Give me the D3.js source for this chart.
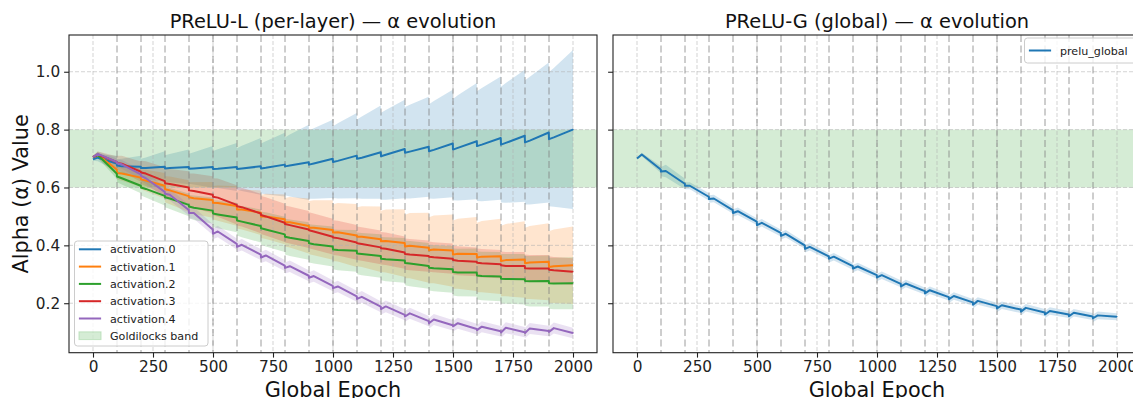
<!DOCTYPE html>
<html><head><meta charset="utf-8">
<script src="https://cdn.jsdelivr.net/npm/d3@7"></script>
<style>body{margin:0;background:#fff}svg{display:block;font-family:"DejaVu Sans",sans-serif}</style>
</head><body><svg id="chart" width="1133" height="398"></svg>
<script>
// ---------- data ----------
const epochs = [0,20,99,100,120,199,200,220,299,300,320,399,400,420,499,500,520,599,600,620,699,700,720,799,800,820,899,900,920,999,1000,1020,1099,1100,1120,1199,1200,1220,1299,1300,1320,1399,1400,1420,1499,1500,1520,1599,1600,1620,1699,1700,1720,1799,1800,1820,1899,1900,1920,1999,2000];
const roundBoundaries = [100,200,300,400,500,600,700,800,900,1000,1100,1200,1300,1400,1500,1600,1700,1800,1900];
const xTicks = [0,250,500,750,1000,1250,1500,1750,2000];
const yTicks = [0.2,0.4,0.6,0.8,1.0];
const goldilocks = [0.6, 0.8];
const layerNames = ["activation.0","activation.1","activation.2","activation.3","activation.4"];
const globalName = "prelu_global";
const colors = ["#1f77b4","#ff7f0e","#2ca02c","#d62728","#9467bd"];

const act0Mean = [0.697,0.703,0.683, 0.676,0.673,0.672, 0.667,0.667,0.672, 0.666,0.667,0.671, 0.665,0.666,0.671, 0.664,0.665,0.671, 0.664,0.666,0.673, 0.666,0.668,0.679, 0.673,0.676,0.687, 0.679,0.683,0.699, 0.688,0.692,0.710, 0.699,0.703,0.722, 0.708,0.713,0.733, 0.720,0.724,0.741, 0.725,0.730,0.752, 0.731,0.737,0.760, 0.743,0.748,0.771, 0.748,0.754,0.779, 0.756,0.762,0.790, 0.767,0.773,0.800, 0.802];
const act0Std = [0.005,0.012,0.027, 0.022,0.026,0.038, 0.032,0.037,0.053, 0.045,0.049,0.060, 0.052,0.056,0.072, 0.062,0.067,0.083, 0.072,0.078,0.098, 0.086,0.092,0.110, 0.100,0.107,0.130, 0.118,0.122,0.135, 0.124,0.130,0.147, 0.136,0.142,0.161, 0.150,0.155,0.170, 0.158,0.162,0.173, 0.163,0.169,0.186, 0.175,0.182,0.201, 0.190,0.196,0.213, 0.200,0.207,0.228, 0.215,0.221,0.242, 0.232,0.240,0.274, 0.276];

const act1Mean = [0.705,0.712,0.662, 0.650,0.648,0.634, 0.628,0.624,0.606, 0.594,0.590,0.570, 0.566,0.563,0.557, 0.547,0.546,0.536, 0.524,0.524,0.513, 0.500,0.500,0.490, 0.480,0.480,0.467, 0.461,0.461,0.453, 0.444,0.445,0.434, 0.430,0.430,0.421, 0.414,0.415,0.408, 0.396,0.399,0.392, 0.383,0.386,0.382, 0.368,0.371,0.370, 0.358,0.361,0.362, 0.346,0.349,0.351, 0.338,0.341,0.343, 0.325,0.328,0.331, 0.331];
const act1Std = [0.005,0.010,0.020, 0.022,0.025,0.032, 0.034,0.037,0.044, 0.045,0.048,0.055, 0.052,0.055,0.062, 0.058,0.061,0.068, 0.066,0.069,0.077, 0.075,0.078,0.086, 0.084,0.087,0.095, 0.092,0.095,0.103, 0.098,0.101,0.109, 0.102,0.105,0.113, 0.106,0.109,0.117, 0.110,0.113,0.121, 0.114,0.117,0.125, 0.118,0.121,0.128, 0.120,0.123,0.130, 0.122,0.125,0.132, 0.123,0.126,0.133, 0.124,0.127,0.134, 0.134];

const act2Mean = [0.705,0.712,0.648, 0.638,0.632,0.606, 0.600,0.595,0.571, 0.566,0.562,0.540, 0.534,0.530,0.520, 0.510,0.507,0.496, 0.486,0.482,0.467, 0.459,0.455,0.438, 0.430,0.426,0.415, 0.407,0.404,0.396, 0.386,0.384,0.381, 0.372,0.370,0.363, 0.354,0.352,0.348, 0.339,0.337,0.329, 0.323,0.321,0.317, 0.308,0.306,0.306, 0.296,0.294,0.292, 0.285,0.284,0.283, 0.277,0.276,0.277, 0.269,0.268,0.269, 0.268];
const act2Std = [0.005,0.010,0.018, 0.020,0.022,0.026, 0.028,0.030,0.033, 0.034,0.036,0.039, 0.040,0.042,0.045, 0.046,0.048,0.051, 0.052,0.054,0.057, 0.057,0.059,0.061, 0.062,0.063,0.065, 0.066,0.067,0.069, 0.069,0.070,0.072, 0.072,0.073,0.075, 0.075,0.076,0.077, 0.077,0.078,0.079, 0.079,0.080,0.081, 0.081,0.082,0.083, 0.083,0.084,0.085, 0.085,0.086,0.087, 0.086,0.087,0.088, 0.088,0.089,0.090, 0.090];

const act3Mean = [0.705,0.714,0.688, 0.685,0.682,0.655, 0.652,0.648,0.622, 0.615,0.612,0.600, 0.590,0.588,0.575, 0.568,0.565,0.540, 0.535,0.532,0.510, 0.505,0.500,0.478, 0.474,0.470,0.455, 0.452,0.448,0.430, 0.427,0.425,0.410, 0.407,0.405,0.393, 0.390,0.388,0.375, 0.370,0.368,0.363, 0.361,0.359,0.354, 0.349,0.347,0.343, 0.340,0.338,0.335, 0.331,0.329,0.329, 0.321,0.320,0.320, 0.316,0.314,0.309, 0.308];
const act3Std = [0.005,0.010,0.020, 0.025,0.028,0.035, 0.040,0.043,0.048, 0.050,0.052,0.056, 0.058,0.060,0.064, 0.064,0.066,0.068, 0.066,0.067,0.068, 0.066,0.066,0.066, 0.064,0.064,0.064, 0.062,0.062,0.062, 0.060,0.060,0.060, 0.058,0.058,0.058, 0.056,0.056,0.056, 0.054,0.054,0.054, 0.052,0.052,0.052, 0.050,0.050,0.050, 0.049,0.049,0.049, 0.048,0.048,0.048, 0.047,0.047,0.047, 0.046,0.046,0.046, 0.046];

const act4Mean = [0.705,0.716,0.688, 0.684,0.680,0.645, 0.640,0.632,0.585, 0.578,0.575,0.522, 0.512,0.512,0.455, 0.440,0.448,0.405, 0.395,0.402,0.368, 0.358,0.365,0.330, 0.322,0.328,0.295, 0.288,0.294,0.260, 0.252,0.258,0.224, 0.215,0.222,0.188, 0.180,0.189,0.160, 0.154,0.165,0.138, 0.131,0.144,0.124, 0.120,0.131,0.111, 0.107,0.119,0.103, 0.099,0.115,0.100, 0.097,0.113,0.104, 0.101,0.114,0.097, 0.095];
const act4Std = [0.004,0.008,0.012, 0.013,0.015,0.017, 0.018,0.019,0.019, 0.019,0.020,0.019, 0.019,0.020,0.019, 0.019,0.020,0.019, 0.019,0.020,0.019, 0.019,0.020,0.019, 0.019,0.020,0.019, 0.019,0.020,0.019, 0.019,0.020,0.019, 0.019,0.020,0.019, 0.019,0.020,0.019, 0.018,0.019,0.018, 0.018,0.019,0.018, 0.018,0.019,0.018, 0.018,0.019,0.018, 0.018,0.019,0.018, 0.018,0.019,0.018, 0.018,0.019,0.018, 0.018];

const globalMean = [0.700,0.714,0.662, 0.655,0.657,0.613, 0.606,0.606,0.568, 0.560,0.562,0.522, 0.512,0.518,0.482, 0.470,0.478,0.443, 0.433,0.440,0.400, 0.388,0.395,0.362, 0.354,0.361,0.328, 0.320,0.327,0.297, 0.289,0.297,0.267, 0.258,0.268,0.242, 0.234,0.245,0.221, 0.214,0.225,0.203, 0.195,0.208,0.190, 0.182,0.193,0.178, 0.171,0.184,0.168, 0.161,0.173,0.161, 0.155,0.167,0.154, 0.148,0.158,0.153, 0.152];
const globalStd = [0.003,0.006,0.012, 0.016,0.022,0.018, 0.012,0.012,0.013, 0.013,0.013,0.012, 0.013,0.013,0.012, 0.013,0.013,0.012, 0.013,0.013,0.012, 0.013,0.013,0.012, 0.013,0.013,0.012, 0.013,0.013,0.012, 0.013,0.013,0.012, 0.013,0.013,0.012, 0.013,0.013,0.012, 0.013,0.013,0.012, 0.013,0.013,0.012, 0.013,0.013,0.012, 0.013,0.013,0.012, 0.013,0.013,0.012, 0.013,0.013,0.012, 0.013,0.013,0.012, 0.012];

const layerMeans = [act0Mean, act1Mean, act2Mean, act3Mean, act4Mean];
const layerStds = [act0Std, act1Std, act2Std, act3Std, act4Std];

// ---------- layout ----------
const svg = d3.select("#chart");
const yTop = 35, yBottom = 352.7;
const panels = [
  {x0: 69, x1: 597, title: "PReLU-L (per-layer) — α evolution"},
  {x0: 613, x1: 1141, title: "PReLU-G (global) — α evolution"}
];
const yScale = d3.scaleLinear().domain([0.029, 1.127]).range([yBottom, yTop]);
const FONT = '"DejaVu Sans", sans-serif';
const LW = 2.0;

function drawPanel(p, idx, seriesList, yLabels) {
  const x = d3.scaleLinear().domain([-100, 2100]).range([p.x0, p.x1]);
  const g = svg.append("g");
  const clipId = "clip" + idx;
  svg.append("defs").append("clipPath").attr("id", clipId)
    .append("rect").attr("x", p.x0).attr("y", yTop).attr("width", p.x1 - p.x0).attr("height", yBottom - yTop);
  const plot = g.append("g").attr("clip-path", `url(#${clipId})`);

  seriesList.forEach(s => {
    const area = d3.area()
      .x((d, i) => x(epochs[i]))
      .y0((d, i) => yScale(s.mean[i] - s.std[i]))
      .y1((d, i) => yScale(s.mean[i] + s.std[i]));
    plot.append("path").datum(s.mean).attr("d", area)
      .attr("fill", s.color).attr("fill-opacity", 0.2).attr("stroke", "none");
  });
  plot.append("rect").attr("x", p.x0).attr("width", p.x1 - p.x0)
    .attr("y", yScale(goldilocks[1])).attr("height", yScale(goldilocks[0]) - yScale(goldilocks[1]))
    .attr("fill", "#2ca02c").attr("fill-opacity", 0.2);

  const grid = plot.append("g");
  xTicks.forEach(t => grid.append("line").attr("x1", x(t)).attr("x2", x(t)).attr("y1", yTop).attr("y2", yBottom)
    .attr("stroke", "#b0b0b0").attr("stroke-opacity", 0.7).attr("stroke-width", 0.8).attr("stroke-dasharray", "4,2"));
  yTicks.forEach(t => grid.append("line").attr("x1", p.x0).attr("x2", p.x1).attr("y1", yScale(t)).attr("y2", yScale(t))
    .attr("stroke", "#b0b0b0").attr("stroke-opacity", 0.7).attr("stroke-width", 0.8).attr("stroke-dasharray", "4,2"));
  roundBoundaries.forEach(b => plot.append("line").attr("x1", x(b)).attr("x2", x(b)).attr("y1", yTop).attr("y2", yBottom)
    .attr("stroke", "#808080").attr("stroke-opacity", 0.6).attr("stroke-width", 1.3).attr("stroke-dasharray", "7,3.5"));

  seriesList.forEach(s => {
    const line = d3.line().x((d, i) => x(epochs[i])).y(d => yScale(d));
    plot.append("path").datum(s.mean).attr("d", line)
      .attr("fill", "none").attr("stroke", s.color).attr("stroke-width", LW).attr("stroke-linejoin", "round");
  });

  const xAxis = d3.axisBottom(x).tickValues(xTicks).tickSize(4.9).tickPadding(4).tickFormat(d3.format("d"));
  const ax = g.append("g").attr("transform", `translate(0,${yBottom})`).call(xAxis);
  ax.select(".domain").remove();
  ax.selectAll("line").attr("stroke", "#222").attr("stroke-width", 1.1);
  ax.selectAll("text").attr("font-size", 15.3).attr("font-family", FONT).attr("fill", "#222");

  const yAxis = d3.axisLeft(yScale).tickValues(yTicks).tickSize(4.9).tickPadding(4)
    .tickFormat(yLabels ? d3.format(".1f") : () => "");
  const ay = g.append("g").attr("transform", `translate(${p.x0},0)`).call(yAxis);
  ay.select(".domain").remove();
  ay.selectAll("line").attr("stroke", "#222").attr("stroke-width", 1.1);
  ay.selectAll("text").attr("font-size", 15.3).attr("font-family", FONT).attr("fill", "#222");

  g.append("rect").attr("x", p.x0).attr("y", yTop).attr("width", p.x1 - p.x0).attr("height", yBottom - yTop)
    .attr("fill", "none").attr("stroke", "#222").attr("stroke-width", 1.1);

  g.append("text").attr("x", (p.x0 + p.x1) / 2).attr("y", 28).attr("text-anchor", "middle")
    .attr("font-size", 19.4).attr("fill", "#111").text(p.title);
  g.append("text").attr("x", (p.x0 + p.x1) / 2).attr("y", 396.5).attr("text-anchor", "middle")
    .attr("font-size", 20.8).attr("fill", "#111").text("Global Epoch");
  return x;
}

const layerSeries = layerNames.map((n, i) => ({name: n, color: colors[i], mean: layerMeans[i], std: layerStds[i]}));
const globalSeries = [{name: globalName, color: colors[0], mean: globalMean, std: globalStd}];

drawPanel(panels[0], 0, layerSeries, true);
drawPanel(panels[1], 1, globalSeries, false);

svg.append("text").attr("transform", `translate(28,${(yTop + yBottom) / 2}) rotate(-90)`)
  .attr("text-anchor", "middle").attr("font-size", 20.8).attr("fill", "#111").text("Alpha (α) Value");

function legend(x0, y0, w, h, firstCy, entries) {
  const lg = svg.append("g");
  lg.append("rect").attr("x", x0).attr("y", y0).attr("width", w).attr("height", h).attr("rx", 3)
    .attr("fill", "#fff").attr("fill-opacity", 0.8).attr("stroke", "#cccccc").attr("stroke-width", 1);
  entries.forEach((e, i) => {
    const cy = y0 + firstCy + i * 17.3;
    if (e.patch) {
      lg.append("rect").attr("x", x0 + 4.4).attr("y", cy - 4).attr("width", 22.2).attr("height", 7.8)
        .attr("fill", e.color).attr("fill-opacity", 0.2).attr("stroke", e.color).attr("stroke-opacity", 0.2);
    } else {
      lg.append("line").attr("x1", x0 + 4.4).attr("x2", x0 + 26.6).attr("y1", cy).attr("y2", cy)
        .attr("stroke", e.color).attr("stroke-width", LW);
    }
    lg.append("text").attr("x", x0 + 35.5).attr("y", cy + 4).attr("font-size", 11.1).attr("fill", "#222").text(e.name);
  });
}
legend(74.5, 241, 133.5, 105, 8.3, layerSeries.map(s => ({name: s.name, color: s.color}))
  .concat([{name: "Goldilocks band", color: "#2ca02c", patch: true}]));
legend(1024.5, 38, 112, 25, 12.5, [{name: globalName, color: colors[0]}]);
</script></body></html>
